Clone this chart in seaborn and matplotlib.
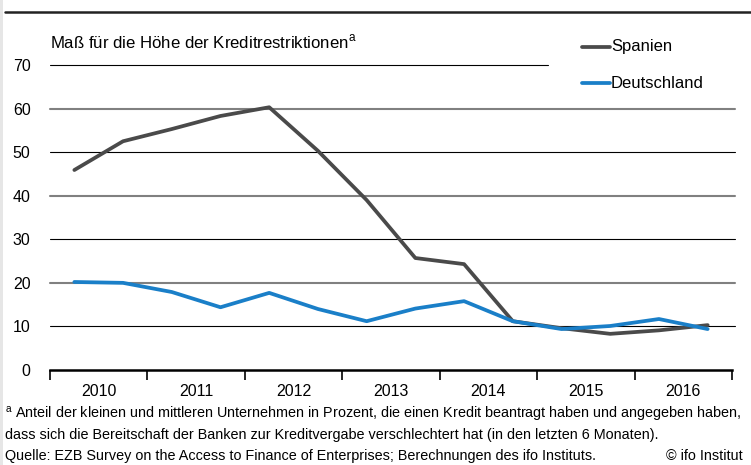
import matplotlib
matplotlib.use("Agg")
import matplotlib.pyplot as plt
import seaborn as sns
import pandas as pd

years = [2010, 2011, 2012, 2013, 2014, 2015, 2016]
half_years = ["2010H1", "2010H2", "2011H1", "2011H2", "2012H1", "2012H2", "2013H1",
              "2013H2", "2014H1", "2014H2", "2015H1", "2015H2", "2016H1", "2016H2"]
spanien = [45.9, 52.5, 55.3, 58.3, 60.3, 50.3, 39.0, 25.7, 24.3, 11.2, 9.6, 8.3, 9.1, 10.3]
deutschland = [20.2, 20.0, 17.9, 14.4, 17.7, 14.0, 11.2, 14.1, 15.8, 11.2, 9.4, 10.1, 11.7, 9.4]
y_ticks = [0, 10, 20, 30, 40, 50, 60, 70]

sns.set_theme(style="white")
plt.rcParams["font.family"] = ["Liberation Sans", "DejaVu Sans"]
plt.rcParams["text.color"] = "black"
plt.rcParams["ytick.color"] = "black"
plt.rcParams["ytick.labelcolor"] = "black"

def pos(h):
    return int(h[:4]) + (0.25 if h.endswith("H1") else 0.75)

df = pd.DataFrame({
    "x": [pos(h) for h in half_years] * 2,
    "value": spanien + deutschland,
    "Land": ["Spanien"] * len(spanien) + ["Deutschland"] * len(deutschland),
})

fig = plt.figure(figsize=(7.51, 4.65), dpi=100)
ax = fig.add_axes([50 / 751, 95 / 465, 682 / 751, 305 / 465])
renderer = fig.canvas.get_renderer()

def fit(txt, width_px):
    w = txt.get_window_extent(renderer).width
    txt.set_fontsize(txt.get_fontsize() * width_px / w)
    return txt.get_fontsize()

# gridlines
for t in y_ticks[1:]:
    xmax = 2010 + (548 - 50) / 682 * 7 if t == 70 else 2010 + (735 - 50) / 682 * 7
    if t in (20, 40, 60):
        ax.plot([2010, xmax], [t, t], color="#808080", lw=1.5, zorder=1, clip_on=False)
    else:
        ax.plot([2010, xmax], [t, t], color="black", lw=0.8, zorder=1, clip_on=False)

sns.lineplot(data=df, x="x", y="value", hue="Land",
             palette={"Spanien": "#4a4a4a", "Deutschland": "#1a7fc8"},
             linewidth=2.7, ax=ax, legend=False, zorder=3, sort=False)

ax.set_xlim(2010, 2017)
ax.set_ylim(0, 70)
for s in ["top", "right", "left"]:
    ax.spines[s].set_visible(False)
ax.spines["bottom"].set_color("black")
ax.spines["bottom"].set_linewidth(1.8)
ax.set_xlabel("")
ax.set_ylabel("")
ax.set_yticks(y_ticks)
ax.set_yticklabels([str(t) for t in y_ticks], fontsize=11.5)
ax.tick_params(axis="y", length=0, pad=14)
ax.set_xticks(years + [2017])
ax.set_xticklabels([])
ax.tick_params(axis="x", direction="out", length=7, width=1.2, color="black", bottom=True)
for y in years:
    ax.text(y + 0.5, -5, str(y), ha="center", va="center", fontsize=11.5)

# title / y label
t = fig.text(50 / 751, 1 - 42 / 465, "Maß für die Höhe der Kreditrestriktionen$^{\\mathregular{a}}$",
             fontsize=11, va="center", ha="left")
fit(t, 306)

# legend
for i, (name, col) in enumerate([("Spanien", "#4a4a4a"), ("Deutschland", "#1a7fc8")]):
    yy = 1 - (47 + 36 * i) / 465
    fig.add_artist(plt.Line2D([582 / 751, 610 / 751], [yy, yy], color=col, lw=2.7))
    fig.text(611 / 751, yy, name, fontsize=12, va="center", ha="left")

# top rule
fig.add_artist(plt.Line2D([5 / 751, 1], [1 - 12 / 465, 1 - 12 / 465], color="#222222", lw=1.8))
fig.add_artist(plt.Rectangle((0, 0), 3 / 751, 1, color="#e6e6e6", lw=0))

# footnotes
f1 = fig.text(5 / 751, 1 - 414 / 465,
              "$^{\\mathregular{a}}$ Anteil der kleinen und mittleren Unternehmen in Prozent, die einen Kredit beantragt haben und angegeben haben,",
              fontsize=10, va="center", ha="left")
fs = fit(f1, 738)
fig.text(5 / 751, 1 - 435 / 465,
         "dass sich die Bereitschaft der Banken zur Kreditvergabe verschlechtert hat (in den letzten 6 Monaten).",
         fontsize=fs, va="center", ha="left")
fig.text(5 / 751, 1 - 456 / 465,
         "Quelle: EZB Survey on the Access to Finance of Enterprises; Berechnungen des ifo Instituts.",
         fontsize=fs, va="center", ha="left")
fig.text(666 / 751, 1 - 456 / 465, "© ifo Institut", fontsize=fs, va="center", ha="left")

fig.savefig("out.png", dpi=100)
